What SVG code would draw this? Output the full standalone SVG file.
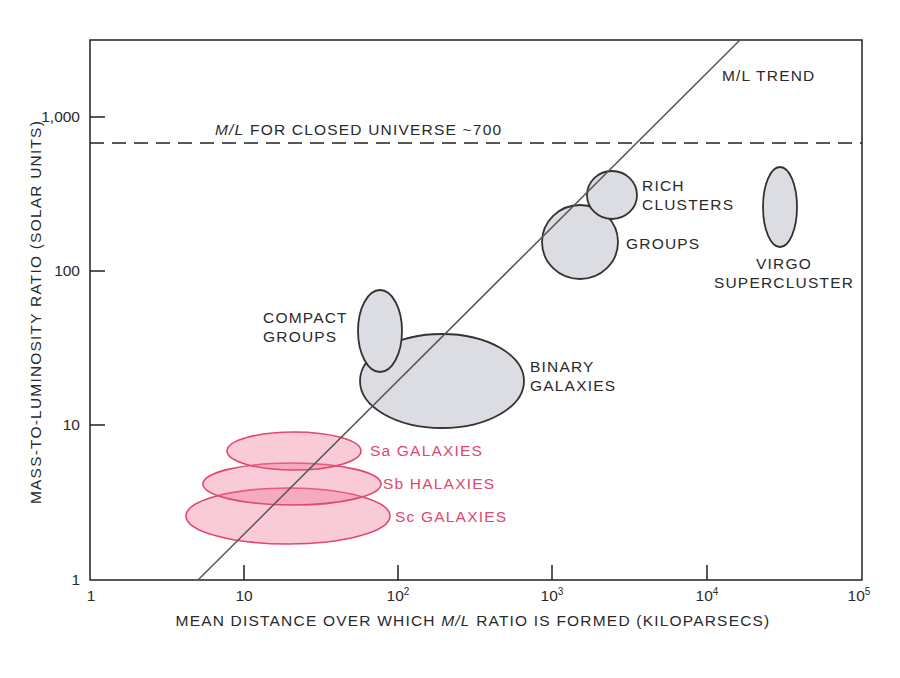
<svg xmlns="http://www.w3.org/2000/svg" width="900" height="678" viewBox="0 0 900 678">
<style>
text{font-family:"Liberation Sans",Arial,sans-serif;font-size:15.5px;letter-spacing:1.2px;fill:#2a2a2a}
.t{letter-spacing:0}
.p{fill:#e0486e}
.g{fill:#dcdde2;stroke:#333;stroke-width:1.8}
.pk{fill:#f07a9a;fill-opacity:0.4;stroke:#e0486e;stroke-width:1.6}
.ax{stroke:#222;stroke-width:1.5;fill:none}
</style>
<rect width="900" height="678" fill="#fff"/>
<g id="frame">
<rect x="90" y="40" width="772" height="540" class="ax"/>
<path class="ax" d="M244 580v-15M398 580v-15M552 580v-15M707 580v-15M90 425h15M90 271h15M90 117h15"/>
<text class="t" x="91" y="601" text-anchor="middle">1</text>
<text class="t" x="244" y="601" text-anchor="middle">10</text>
<text class="t" x="398" y="601" text-anchor="middle">10<tspan font-size="10" dy="-6">2</tspan></text>
<text class="t" x="552" y="601" text-anchor="middle">10<tspan font-size="10" dy="-6">3</tspan></text>
<text class="t" x="707" y="601" text-anchor="middle">10<tspan font-size="10" dy="-6">4</tspan></text>
<text class="t" x="859" y="601" text-anchor="middle">10<tspan font-size="10" dy="-6">5</tspan></text>
<text class="t" x="80" y="585" text-anchor="end">1</text>
<text class="t" x="80" y="430" text-anchor="end">10</text>
<text class="t" x="80" y="276" text-anchor="end">100</text>
<text class="t" x="80" y="122" text-anchor="end">1,000</text>
<text x="473" y="626" text-anchor="middle">MEAN DISTANCE OVER WHICH <tspan font-style="italic">M/L</tspan> RATIO IS FORMED (KILOPARSECS)</text>
<text transform="translate(41 312) rotate(-90)" text-anchor="middle">MASS-TO-LUMINOSITY RATIO (SOLAR UNITS)</text>
</g>
<g id="connectors">
<line x1="90" y1="143" x2="862" y2="143" stroke="#222" stroke-width="1.5" stroke-dasharray="14 8"/>
</g>
<g id="sc"><ellipse class="pk" cx="288" cy="516" rx="102" ry="28"/><text class="p" x="395" y="522">Sc GALAXIES</text></g>
<g id="sb"><ellipse class="pk" cx="292" cy="484" rx="89" ry="21"/><text class="p" x="383" y="489">Sb HALAXIES</text></g>
<g id="sa"><ellipse class="pk" cx="294" cy="451" rx="67" ry="19"/><text class="p" x="370" y="456">Sa GALAXIES</text></g>
<g id="binary"><ellipse class="g" cx="442" cy="381" rx="82" ry="47"/><text x="530" y="372">BINARY</text><text x="530" y="391">GALAXIES</text></g>
<g id="compact"><ellipse class="g" cx="380" cy="331" rx="22" ry="41"/><text x="263" y="323">COMPACT</text><text x="263" y="342">GROUPS</text></g>
<g id="groups"><ellipse class="g" cx="580" cy="242" rx="38" ry="37"/><text x="626" y="249">GROUPS</text></g>
<g id="rich"><ellipse class="g" cx="612" cy="195" rx="25" ry="24"/><text x="642" y="191">RICH</text><text x="642" y="210">CLUSTERS</text></g>
<g id="virgo"><ellipse class="g" cx="780" cy="207" rx="17" ry="40"/><text x="784" y="269" text-anchor="middle">VIRGO</text><text x="784" y="288" text-anchor="middle">SUPERCLUSTER</text></g>
<g id="trend"><line x1="198" y1="580" x2="740" y2="40" stroke="#555" stroke-width="1.5"/>
<text x="722" y="81">M/L TREND</text></g>
<text x="215" y="135"><tspan font-style="italic">M/L</tspan> FOR CLOSED UNIVERSE ~700</text>
</svg>
